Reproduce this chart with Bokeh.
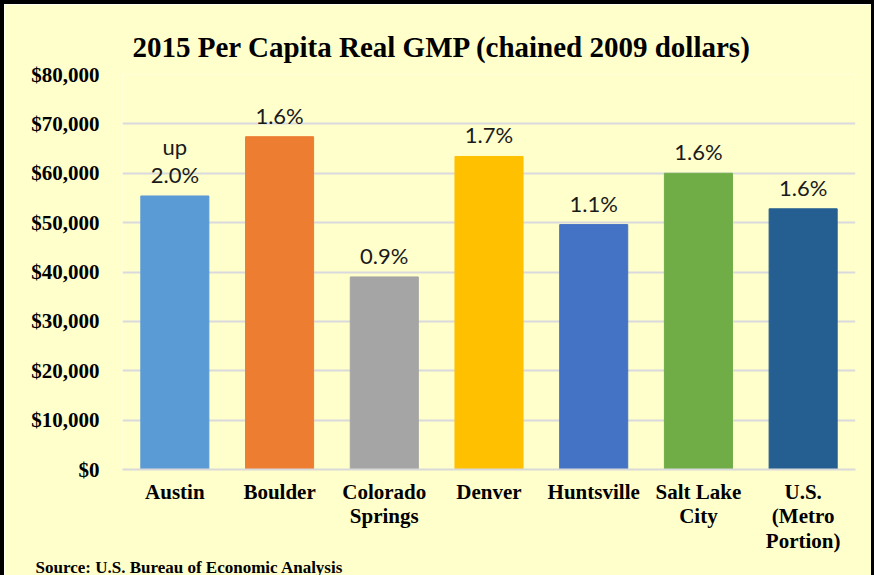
from bokeh.plotting import figure
from bokeh.models import Title, NumeralTickFormatter, FixedTicker, Range1d, ColumnDataSource
from bokeh.core.properties import value
from bokeh.embed import file_html
from bokeh.resources import INLINE

categories = ["Austin", "Boulder", "Colorado\nSprings", "Denver", "Huntsville",
              "Salt Lake\nCity", "U.S.\n(Metro\nPortion)"]
gmp_per_capita = [55400, 67400, 39000, 63400, 49600, 60000, 52800]
growth_labels = ["up\n2.0%", "1.6%", "0.9%", "1.7%", "1.1%", "1.6%", "1.6%"]
bar_colors = ["#5B9BD5", "#ED7D31", "#A5A5A5", "#FFC000", "#4472C4", "#70AD47", "#255E91"]
y_ticks = [0, 10000, 20000, 30000, 40000, 50000, 60000, 70000, 80000]
source_note = "Source: U.S. Bureau of Economic Analysis"

BG = "#FFFFCC"
SERIF = "Liberation Serif"

src = ColumnDataSource(dict(cat=categories, val=gmp_per_capita,
                            label=growth_labels, color=bar_colors))

p = figure(x_range=categories, y_range=Range1d(0, 80000),
           width=867, height=571, output_backend="svg", toolbar_location=None,
           background_fill_color=BG, border_fill_color=BG,
           min_border_left=118, min_border_right=23, min_border_top=70,
           min_border_bottom=100, outline_line_color=None)
p.styles = {"box-sizing": "content-box",
            "border-top": "4px solid black",
            "border-left": "4px solid black",
            "border-right": "3px solid black"}

p.title.text = "2015 Per Capita  Real GMP (chained  2009 dollars)"
p.title.text_font = SERIF
p.title.text_font_style = "bold"
p.title.text_font_size = "29px"
p.title.align = "left"
p.title.offset = 10
p.title.standoff = 23
p.title.text_color = "#000000"

p.vbar(x="cat", top="val", width=0.65, color="color", source=src)
p.text(x="cat", y="val", text="label", source=src, text_align="center",
       text_baseline="bottom", y_offset=-8, text_font=value("Lato"),
       text_font_size="22px", text_line_height=1.05, text_color="#1a1a1a")

# y axis
p.yaxis.ticker = FixedTicker(ticks=y_ticks)
p.yaxis.formatter = NumeralTickFormatter(format="$0,0")
p.yaxis.major_label_text_font = SERIF
p.yaxis.major_label_text_font_style = "bold"
p.yaxis.major_label_text_font_size = "21px"
p.yaxis.major_label_text_color = "#000000"
p.yaxis.major_label_standoff = 17
p.yaxis.major_tick_line_color = None
p.yaxis.minor_tick_line_color = None
p.yaxis.axis_line_color = None

# x axis
p.xaxis.major_label_text_font = SERIF
p.xaxis.major_label_text_font_style = "bold"
p.xaxis.major_label_text_font_size = "21px"
p.xaxis.major_label_text_color = "#000000"
p.xaxis.major_label_text_line_height = 1.04
p.xaxis.major_label_standoff = 4
p.xaxis.major_tick_line_color = None
p.xaxis.axis_line_color = "#D9D9D9"
p.xaxis.axis_line_width = 2

p.xgrid.grid_line_color = None
p.ygrid.grid_line_color = "#D9D9DE"
p.ygrid.grid_line_width = 2

note = Title(text=source_note, align="left", offset=-87, standoff=2,
             vertical_align="top",
             text_font=SERIF, text_font_style="bold", text_font_size="17px",
             text_color="#000000")
p.add_layout(note, "below")

open("out.html", "w").write(file_html(p, INLINE))
